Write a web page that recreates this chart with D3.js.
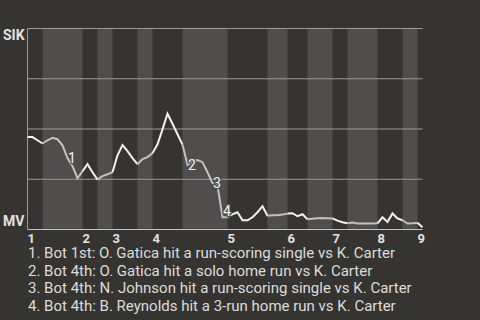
<!DOCTYPE html>
<html>
<head>
<meta charset="utf-8">
<script src="https://cdn.jsdelivr.net/npm/d3@7"></script>
<style>
  html, body { margin: 0; padding: 0; background: #363430; }
  svg { display: block; font-family: Roboto, "Noto Sans", sans-serif; }
</style>
</head>
<body>
<svg id="chart" width="480" height="320"></svg>
<script>
// team at top / bottom of the win probability scale
const TEAMS = ["SIK", "MV"];

// inning labels and the plate appearance where each half starts
const innings = ["1", "2", "3", "4", "5", "6", "7", "8", "9"];
const topStarts = [0, 11, 17, 25, 40, 52, 61, 70, 78];
const botStarts = [3, 14, 22, 31, 48, 56, 64, 75];
const LAST_PA = 79;

// SIK win probability (%) after each plate appearance
const wp = [
  46, 46, 44.4, 42.8, 44.4, 45.6, 44.9, 41.9, 35.5, 31.5,
  25.5, 29, 32.5, 28.5, 24.8, 26.6, 27.5, 28.5, 36.9, 42,
  39, 35.5, 32.5, 35, 36, 38, 42.4, 49.8, 57.6, 52.6,
  47.4, 42.2, 32.2, 33.9, 34.5, 33.5, 28.5, 23, 22, 6.1,
  6.1, 7.6, 8.6, 4.6, 4.6, 6.1, 8.6, 11.6, 6.8, 7.1,
  7.1, 7.5, 7.9, 8.1, 6.6, 7.6, 5.1, 5.4, 5.6, 5.7,
  5.6, 5.5, 4.4, 3.6, 3.1, 3.5, 3, 3, 3, 3,
  3.1, 6.1, 3.8, 8, 5.5, 4.6, 3, 3.1, 3.4, 1.1
];

// key plays
const eventPA = [8, 32, 37, 39];
const eventText = [
  "Bot 1st: O. Gatica hit a run-scoring single vs K. Carter",
  "Bot 4th: O. Gatica hit a solo home run vs K. Carter",
  "Bot 4th: N. Johnson hit a run-scoring single vs K. Carter",
  "Bot 4th: B. Reynolds hit a 3-run home run vs K. Carter"
];

const gridTicks = [0, 25, 50, 75, 100];

const svg = d3.select("#chart");
const plotLeft = 27.5, plotRight = 422.5, plotTop = 28.5, plotBottom = 229.5;

const x = d3.scaleLinear().domain([0, LAST_PA]).range([plotLeft, plotRight]);
const y = d3.scaleLinear().domain([0, 100]).range([plotBottom, plotTop]);

// half innings: top halves dark, bottom halves light
var halves = [];
for (var i = 0; i < topStarts.length; i++) {
    var tEnd = i < botStarts.length ? botStarts[i] : LAST_PA;
    halves.push({start: topStarts[i], end: tEnd, bot: false});
    if (i < botStarts.length) {
        var bEnd = i + 1 < topStarts.length ? topStarts[i + 1] : LAST_PA;
        halves.push({start: botStarts[i], end: bEnd, bot: true});
    }
}

svg.append("g").selectAll("rect")
    .data(halves.filter(d => d.bot))
    .enter().append("rect")
    .attr("x", d => x(d.start))
    .attr("width", d => x(d.end) - x(d.start))
    .attr("y", y(100))
    .attr("height", y(0) - y(100))
    .attr("fill", "#4f4e4c");

// grid lines
svg.append("g").selectAll("line")
    .data(gridTicks)
    .enter().append("line")
    .attr("x1", x(0)).attr("x2", x(LAST_PA))
    .attr("y1", d => y(d)).attr("y2", d => y(d))
    .attr("stroke", d => d === 0 ? "#c4c4c4" : "#9a9a9a")
    .attr("stroke-width", 1);

svg.append("line")
    .attr("x1", x(0)).attr("x2", x(0))
    .attr("y1", y(100)).attr("y2", y(0))
    .attr("stroke", "#9a9a9a");

// team labels
svg.append("text")
    .attr("x", 3).attr("y", y(100) + 11)
    .attr("fill", "#e2e2e2").attr("font-size", 14).attr("font-weight", "bold")
    .text(TEAMS[0]);
svg.append("text")
    .attr("x", 3).attr("y", y(0) - 4)
    .attr("fill", "#e2e2e2").attr("font-size", 14).attr("font-weight", "bold")
    .text(TEAMS[1]);

// inning labels
svg.append("g").selectAll("text")
    .data(innings)
    .enter().append("text")
    .attr("x", (d, i) => x(topStarts[i]))
    .attr("y", y(0) + 13)
    .attr("fill", "#e2e2e2").attr("font-size", 13).attr("font-weight", "bold")
    .text(d => d);

// win probability line, one piece per half inning
const line = d3.line()
    .x(i => x(i))
    .y(i => y(wp[i]));

svg.append("g").selectAll("path")
    .data(halves)
    .enter().append("path")
    .attr("d", d => line(d3.range(d.start, d.end + 1)))
    .attr("fill", "none")
    .attr("stroke", d => d.bot ? "#c2c2c2" : "#f2f2f2")
    .attr("stroke-width", 2)
    .attr("stroke-linejoin", "miter");

// event markers
svg.append("g").selectAll("text")
    .data(eventPA)
    .enter().append("text")
    .attr("x", d => x(d) + 0.5)
    .attr("y", d => y(wp[d]) - (wp[d] < 10 ? 6 : 0))
    .attr("dy", "0.35em")
    .attr("fill", "#f4f4f4")
    .attr("stroke", "#4f4e4c").attr("stroke-width", 2.5)
    .attr("paint-order", "stroke")
    .attr("font-size", 14)
    .text((d, i) => i + 1);

// legend
svg.append("g").selectAll("text")
    .data(eventText)
    .enter().append("text")
    .attr("x", 28)
    .attr("y", (d, i) => 258 + i * 17.6)
    .attr("fill", "#dcdcdc")
    .attr("font-size", 15)
    .text((d, i) => (i + 1) + ". " + d);
</script>
</body>
</html>
